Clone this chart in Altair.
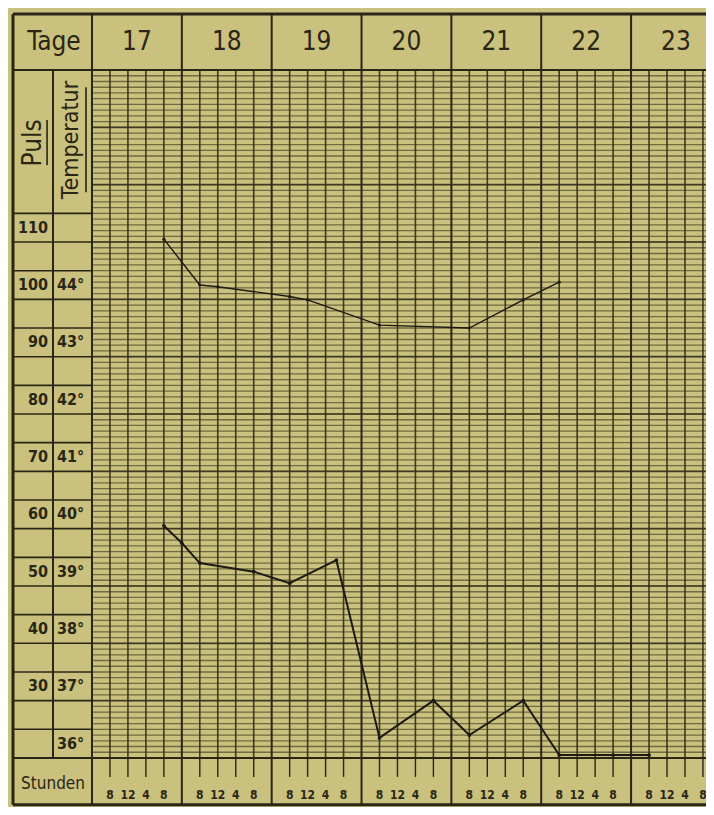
import altair as alt
import pandas as pd

# ---------------- data ----------------
days = [17, 18, 19, 20, 21, 22, 23]
hour_labels = ["8", "12", "4", "8"]
pulse_ticks = [110, 100, 90, 80, 70, 60, 50, 40, 30]
temp_ticks = [44, 43, 42, 41, 40, 39, 38, 37, 36]

# pulse readings (day, slot within day: 1=8h, 2=12h, 3=4h, 4=8h)
pulse_day = [17, 18, 18, 19, 19, 20, 21, 21, 22]
pulse_slot = [4, 1, 2, 1, 2, 1, 1, 4, 1]
pulse_value = [108, 100, 99.7, 98, 97.4, 93, 92.5, 97.4, 100.5]

# temperature readings
temp_day = [17, 18, 18, 18, 19, 19, 20, 20, 21, 21, 22, 22, 23]
temp_slot = [4, 0, 1, 4, 1, 3.6, 1, 4, 1, 4, 1, 4, 1]
temp_value = [39.8, 39.5, 39.15, 39.0, 38.8, 39.2, 36.1, 36.75, 36.15, 36.75, 35.8, 35.8, 35.8]

# ---------------- layout (in scale units: slots / degrees) ----------------
PAPER = "#c9c17d"
INK = "#2a2616"
FONT = "Liberation Sans Narrow, DejaVu Sans Condensed, Roboto, sans-serif"

X_MIN, X_MAX = -4.674, 34.17
Y_MIN, Y_MAX = 34.895, 48.832
LEFT = -4.396      # outer left frame
DIV = -2.170       # Puls | Temperatur divider
TOP = 48.727       # outer top frame
BOT = 34.935       # outer bottom frame
HEAD = 47.75       # bottom of header row
PLOT_BOT = 35.75   # bottom of grid / top of Stunden row

xs = alt.Scale(domain=[X_MIN, X_MAX], nice=False, zero=False)
ys = alt.Scale(domain=[Y_MIN, Y_MAX], nice=False, zero=False)


def rules(rows, color, width, opacity=1.0):
    df = pd.DataFrame(rows, columns=["x", "x2", "y", "y2"])
    return alt.Chart(df).mark_rule(color=color, strokeWidth=width, opacity=opacity).encode(
        x=alt.X("x:Q", scale=xs, axis=None),
        x2="x2:Q",
        y=alt.Y("y:Q", scale=ys, axis=None),
        y2="y2:Q",
    )


def texts(df, size, align="center", weight="normal", angle=0, baseline="middle"):
    kw = dict(font=FONT, fontSize=size, align=align, baseline=baseline,
              fontWeight=weight, color=INK)
    if angle:
        kw["angle"] = angle
    return alt.Chart(df).mark_text(**kw).encode(
        x=alt.X("x:Q", scale=xs, axis=None),
        y=alt.Y("y:Q", scale=ys, axis=None),
        text="t:N",
    )


# fine horizontal grid (0.1 degree)
fine = [(0, X_MAX, PLOT_BOT + i * 0.1, PLOT_BOT + i * 0.1) for i in range(1, 120)]
# stronger horizontal lines every degree
strong_h = [(0, X_MAX, v + 0.75, v + 0.75) for v in range(36, 47)]
# vertical slot lines
slot_v = [(u, u, PLOT_BOT, HEAD) for u in range(1, 35) if u % 5 != 0]
# Stunden ticks
ticks = [(u, u, PLOT_BOT - 0.33, PLOT_BOT) for u in range(1, 35) if u % 5 != 0]
# day boundaries
day_v = [(u, u, BOT, TOP) for u in range(0, 35, 5)]
# cell lines in the left columns
cells = [(LEFT, 0, v / 2 + 0.25, v / 2 + 0.25) for v in range(72, 91)]
# frame
frame = [
    (LEFT, X_MAX, TOP, TOP),
    (LEFT, X_MAX, BOT, BOT),
    (LEFT, LEFT, BOT, TOP),
]
frame2 = [
    (LEFT, X_MAX, HEAD, HEAD),
    (LEFT, X_MAX, PLOT_BOT, PLOT_BOT),
    (DIV, DIV, PLOT_BOT, HEAD),
]
underline = [
    (-2.50, -2.50, 46.09, 46.88),
    (-0.334, -0.334, 45.62, 47.45),
]

# text tables
day_df = pd.DataFrame({"x": [(d - 17) * 5 + 2.5 for d in days],
                       "y": [48.24] * len(days), "t": [str(d) for d in days]})
tage_df = pd.DataFrame({"x": [-2.115], "y": [48.24], "t": ["Tage"]})
stunden_df = pd.DataFrame({"x": [-2.17], "y": [35.30], "t": ["Stunden"]})
hour_df = pd.DataFrame({
    "x": [(d - 17) * 5 + k + 1 for d in days for k in range(4)],
    "y": [35.11] * (4 * len(days)),
    "t": [hour_labels[k] for d in days for k in range(4)],
})
pulse_lab = pd.DataFrame({"x": [-2.449] * len(pulse_ticks),
                          "y": [p / 10 + 34 for p in pulse_ticks],
                          "t": [str(p) for p in pulse_ticks]})
temp_lab = pd.DataFrame({"x": [-1.948] * len(temp_ticks),
                         "y": temp_ticks,
                         "t": [f"{t}°" for t in temp_ticks]})
puls_df = pd.DataFrame({"x": [-3.28], "y": [46.48], "t": ["Puls"]})
temper_df = pd.DataFrame({"x": [-1.17], "y": [46.53], "t": ["Temperatur"]})

# data series
pulse_df = pd.DataFrame({
    "x": [(d - 17) * 5 + s for d, s in zip(pulse_day, pulse_slot)],
    "y": [p / 10 + 34 for p in pulse_value],
})
temp_df = pd.DataFrame({
    "x": [(d - 17) * 5 + s for d, s in zip(temp_day, temp_slot)],
    "y": temp_value,
})


def series(df, width, size):
    enc = dict(x=alt.X("x:Q", scale=xs, axis=None), y=alt.Y("y:Q", scale=ys, axis=None),
               order="x:Q")
    line = alt.Chart(df).mark_line(color="#1c1a12", strokeWidth=width).encode(**enc)
    pts = alt.Chart(df).mark_circle(color="#1c1a12", size=size, opacity=1).encode(
        x=alt.X("x:Q", scale=xs, axis=None), y=alt.Y("y:Q", scale=ys, axis=None))
    return line + pts


chart = alt.layer(
    rules(fine, "#4a4627", 1.3, 0.7),
    rules(strong_h, "#36321c", 1.7, 0.85),
    rules(slot_v, "#302c18", 1.6, 0.9),
    rules(ticks, INK, 1.4),
    rules(cells, INK, 1.6),
    rules(day_v, INK, 2.0),
    rules(frame2, INK, 2.0),
    rules(frame, INK, 3.0),
    rules(underline, INK, 1.6),
    texts(day_df, 26),
    texts(tage_df, 26),
    texts(stunden_df, 17),
    texts(hour_df, 12, weight="bold"),
    texts(pulse_lab, 16, align="right", weight="bold"),
    texts(temp_lab, 16, align="left", weight="bold"),
    texts(puls_df, 26, angle=270),
    texts(temper_df, 23, angle=270),
    series(pulse_df, 1.4, 10),
    series(temp_df, 2.0, 14),
).properties(
    width=698,
    height=799,
    padding=0,
    autosize=alt.AutoSizeParams(type="none"),
    background=PAPER,
).configure_view(stroke=None)

chart.save("out.html", embed_options={"renderer": "svg", "actions": False})
